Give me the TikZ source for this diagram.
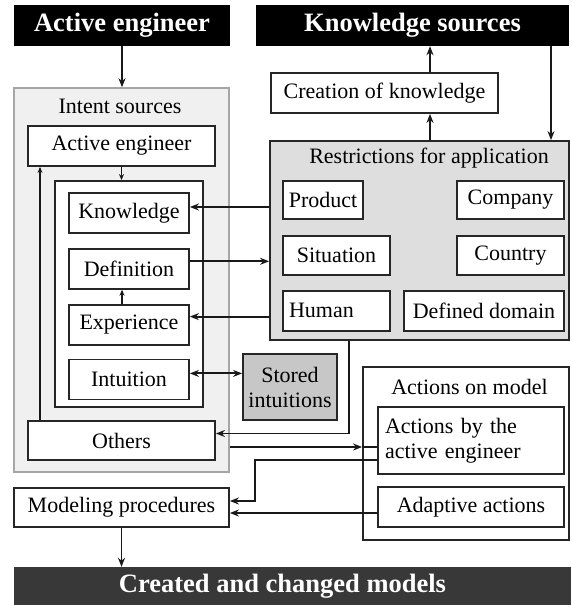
\documentclass[tikz,border=0pt]{standalone}
\usepackage{fontspec}
\setmainfont{Liberation Serif}
\usetikzlibrary{arrows.meta, positioning}

\begin{document}
\begin{tikzpicture}[x=1pt, y=-1pt,
    box/.style={rectangle, draw=black!85, fill=white, line width=1.8pt, inner sep=0pt, align=center, font=\fontsize{22}{25}\selectfont},
    bar/.style={rectangle, fill=black, text=white, inner sep=0pt, font=\bfseries\fontsize{26.5}{28}\selectfont},
    lbl/.style={inner sep=0pt, font=\fontsize{22}{25}\selectfont},
    arrow/.style={-{Stealth[length=9pt, width=7pt]}, line width=1.9pt, color=black!90},
    small arrow/.style={-{Stealth[length=6pt, width=5pt]}, line width=1.9pt, color=black!90},
    line/.style={line width=1.9pt, color=black!90}
]
\useasboundingbox (0,0) rectangle (571,605);

% Top bars
\node[bar, minimum width=216pt, minimum height=41pt] (aebar) at (122,25.5) {Active engineer};
\node[bar, minimum width=313pt, minimum height=41pt] (ksbar) at (412.5,25.5) {Knowledge sources};

% Intent sources
\node[rectangle, draw=black!35, fill=black!6, line width=1.5pt, minimum width=215pt, minimum height=384pt] (intent) at (121.5,280) {};
\node[lbl] (intlbl) at (120,106) {Intent sources};
\node[box, minimum width=187pt, minimum height=40pt] (aeng) at (121.5,146) {Active engineer};
\node[box, minimum width=148pt, minimum height=226pt] (inner) at (129,294) {};
\node[box, minimum width=120pt, minimum height=40pt] (know) at (129,213) {Knowledge};
\node[box, minimum width=120pt, minimum height=40pt, below=14pt of know] (defn) {Definition};
\node[box, minimum width=120pt, minimum height=40pt, below=14pt of defn] (expe) {Experience};
\node[box, minimum width=120pt, minimum height=40pt, below=13pt of expe] (intu) {Intuition};
\node[box, minimum width=187pt, minimum height=39pt] (others) at (121.5,440.5) {Others};

% Knowledge side
\node[box, minimum width=227pt, minimum height=40pt] (create) at (384.5,93) {Creation of knowledge};
\node[rectangle, draw=black!85, fill=black!13, line width=1.8pt, minimum width=299pt, minimum height=199pt] (restr) at (419.5,240.5) {};
\node[lbl] (reslbl) at (429,158) {Restrictions for application};
\node[box, minimum width=80pt, minimum height=38pt] (prod) at (323,200) {Product};
\node[box, minimum width=107pt, minimum height=39pt, below=15pt of prod.south west, anchor=north west] (situ) {Situation};
\node[box, text width=95pt, inner xsep=6pt, align=left, minimum height=40pt, below=14pt of situ] (huma) {Human};
\node[box, minimum width=107pt, minimum height=38pt] (comp) at (510.5,200) {Company};
\node[box, minimum width=107pt, minimum height=39pt, below=15pt of comp] (coun) {Country};
\node[box, minimum width=160pt, minimum height=40pt, below=14pt of coun.south east, anchor=north east] (domn) {Defined domain};
\node[box, fill=black!22, minimum width=94pt, minimum height=66pt] (stored) at (290,387) {Stored\\intuitions};

% Actions on model
\node[box, minimum width=206pt, minimum height=173pt] (aom) at (466,453.5) {};
\node[lbl] (aomlbl) at (469.5,387) {Actions on model};
\node[box, text width=172pt, inner xsep=7pt, align=left, minimum height=67pt] (abe) at (471,440.5) {Actions by the\\active engineer};
\node[box, minimum width=186pt, minimum height=40pt] (ada) at (471,507) {Adaptive actions};
\node[box, minimum width=215pt, minimum height=39pt] (model) at (121.5,507.5) {Modeling procedures};

% Bottom bar
\node[bar, fill=black!78, minimum width=557pt, minimum height=38pt] (cbar) at (292.5,586) {Created and changed models\hspace*{20pt}};

\coordinate (kx) at (430,0);
\coordinate (ksx) at (551,0);
\coordinate (bend) at (255,480);

\draw[arrow] (aebar) -- (aebar.south |- intent.north);
\draw[arrow] (create.north -| kx) -- (ksbar.south -| kx);
\draw[arrow] (restr.north -| kx) -- (create.south -| kx);
\draw[arrow] (ksbar.south -| ksx) -- (restr.north -| ksx);
\draw[small arrow] (aeng.south) -- (aeng.south |- inner.north);
\draw[small arrow] ([xshift=-7pt]expe.north) -- ([xshift=-7pt]defn.south);
\draw[small arrow] ([xshift=-81.5pt]others.north) -- ([xshift=-81.5pt]aeng.south);
\draw[arrow] ([yshift=6pt]know.east -| restr.west) -- ([yshift=6pt]know.east);
\draw[arrow] ([yshift=7.5pt]defn.east) -- ([yshift=7.5pt]defn.east -| restr.west);
\draw[arrow] ([yshift=8pt]expe.east -| restr.west) -- ([yshift=8pt]expe.east);
\draw[arrow, {Stealth[length=9pt, width=7pt]}-{Stealth[length=9pt, width=7pt]}] ([yshift=6pt]intu.east) -- ([yshift=6pt]intu.east -| stored.west);
\draw[arrow] ([xshift=-70.5pt]restr.south) |- ([yshift=7pt]others.east);
\draw[arrow] ([yshift=-6.5pt]abe.west -| intent.east) -- ([yshift=-6.5pt]abe.west -| aom.west);
\draw[line] ([yshift=-6.5pt]abe.west -| aom.west) -- ([yshift=-6.5pt]abe.west);
\draw[arrow] ([yshift=-19.5pt]abe.west) -| (bend) |- ([yshift=6.5pt]model.east);
\draw[arrow] ([yshift=-6pt]ada.west) -- ([yshift=-6pt]ada.west -| model.east);
\draw[arrow] (model.south) -- (model.south |- cbar.north);
\end{tikzpicture}
\end{document}
